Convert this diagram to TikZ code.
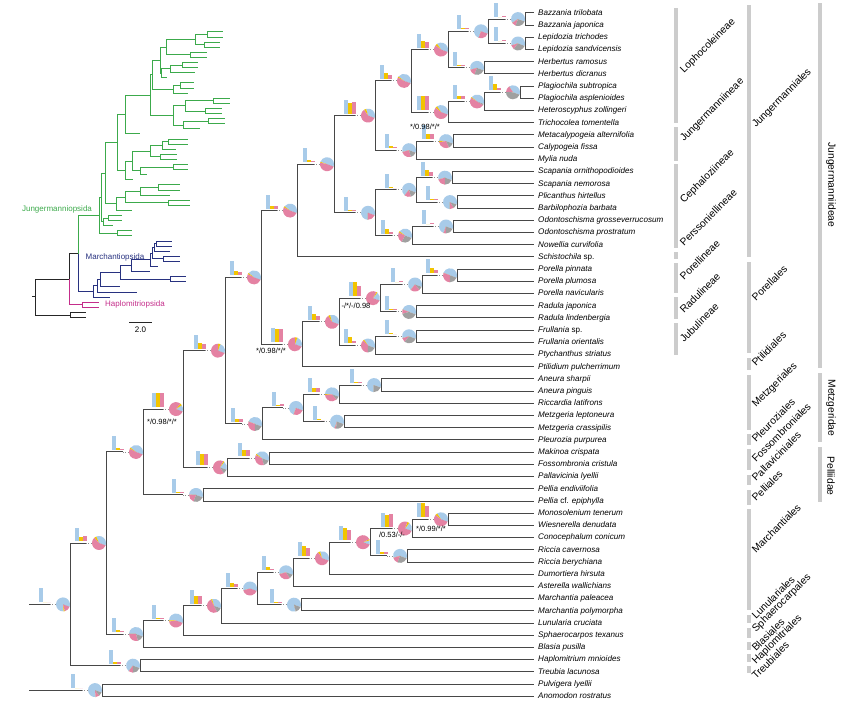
\documentclass[tikz,border=0pt]{standalone}
\usepackage{fontspec}
\setmainfont{Liberation Sans}
\usetikzlibrary{calc}

\definecolor{pblue}{RGB}{168,203,233}
\definecolor{ppink}{RGB}{228,130,163}
\definecolor{pyel}{RGB}{242,196,0}
\definecolor{pgray}{RGB}{160,160,160}
\definecolor{rankgray}{RGB}{204,204,204}
\definecolor{jungcol}{RGB}{60,170,75}
\definecolor{marchcol}{RGB}{40,50,128}
\definecolor{hapcol}{RGB}{196,45,138}

\tikzset{
  branch/.style={draw=black!72, line width=1pt},
  link/.style={draw=black!45, line width=0.8pt, dash pattern=on 0.8pt off 1.6pt},
  ibranch/.style={line width=1pt},
  mroot/.style={branch}, mhap/.style={branch},
  mjung/.style={branch}, mmarch/.style={branch},
  iroot/.style={ibranch, draw=black!85}, ihap/.style={ibranch, draw=hapcol},
  ijung/.style={ibranch, draw=jungcol}, imarch/.style={ibranch, draw=marchcol},
  taxon/.style={anchor=west, inner xsep=4pt, inner ysep=0pt, text height=6pt, text depth=1.5pt,
    font=\fontsize{8.1}{9}\selectfont\itshape},
  support/.style={font=\fontsize{7.5}{8}\selectfont, inner sep=0.5pt},
  rank/.style={font=\fontsize{10.3}{12}\selectfont, inner sep=0pt},
  rankbar/.style={fill=rankgray},
  ilabel/.style={font=\fontsize{8}{9}\selectfont, inner sep=0pt}
}

% node: name, x in tree, x in inset, y
\newcommand{\nd}[4]{%
  \coordinate (m#1) at (#2,#4);
  \coordinate (m#1-in) at (#2-20,#4);
  \coordinate (i#1) at (#3,{32+0.418*(#4-13)});
}

% pie (blue, yellow, pink, gray in %) and bars (blue, yellow, pink heights)
\newcommand{\info}[8]{%
  \draw[link] (m#1-in) -- ++(6,0);
  \pgfmathsetmacro\angA{-20}
  \pgfmathsetmacro\angB{\angA+3.6*#2}
  \pgfmathsetmacro\angC{\angB+3.6*#3}
  \pgfmathsetmacro\angD{\angC+3.6*#4}
  \pgfmathsetmacro\angE{\angD+3.6*#5}
  \path (m#1) ++(-7,0) coordinate (pc);
  \fill[pblue] (pc) -- ++(\angA:7pt) arc[start angle=\angA, end angle=\angB, radius=7pt] -- cycle;
  \fill[pyel] (pc) -- ++(\angB:7pt) arc[start angle=\angB, end angle=\angC, radius=7pt] -- cycle;
  \fill[ppink] (pc) -- ++(\angC:7pt) arc[start angle=\angC, end angle=\angD, radius=7pt] -- cycle;
  \fill[pgray] (pc) -- ++(\angD:7pt) arc[start angle=\angD, end angle=\angE, radius=7pt] -- cycle;
  \fill[pblue] (m#1) ++(-31,-2) rectangle ++(4,-#6);
  \fill[pyel] (m#1) ++(-27,-2) rectangle ++(4,-#7);
  \fill[ppink] (m#1) ++(-23,-2) rectangle ++(4,-#8);
}

% the tree, one edge per path: prefix, suffix of the inner end points
\newcommand{\phylo}[2]{%
  \foreach \a/\b in {root1/L0, root2/O, L0/A} {\draw[#1root] (#1\a) |- (#1\b#2);}
  \foreach \a/\b in {O/56, O/57} {\draw[#1root] (#1\a) |- (#1e\b);}
  \draw[#1hap] (#1L0) |- (#1Hap#2);
  \foreach \b in {54, 55} {\draw[#1hap] (#1Hap) |- (#1e\b);}
  \foreach \a/\b in {A/M, M/MB, MB/MC, MC/MD, MD/ME, MD/Mar, ME/MG, MG/MH,
      MH/MI, MH/Ric, MI/MJ} {\draw[#1march] (#1\a) |- (#1\b#2);}
  \foreach \a/\b in {M/53, MB/52, MC/51, Mar/49, Mar/50, ME/48, MG/47, Ric/45,
      Ric/46, MI/44, MJ/42, MJ/43} {\draw[#1march] (#1\a) |- (#1e\b);}
  \foreach \a/\b in {A/B, B/C, B/Pell, C/D, C/P, P/MF, D/E, D/Mz, Mz/Mzb,
      Mzb/Aneu, Mzb/Metz, Aneu/Aneura, E/F, E/J, J/K, K/L, K/Jub, L/Por, L/Rad,
      Por/PorP, Jub/Frul, F/G, G/H, G/I, H/Lopho, H/CM, Lopho/NL, Lopho/NP,
      NL/NB, NL/Herb, NB/Bazz, NB/Lep, NP/NH, NH/Plag, CM/Calyp, I/Ceph,
      I/Perss, Ceph/Scap, Ceph/Plic, Perss/Odont} {\draw[#1jung] (#1\a) |- (#1\b#2);}
  \foreach \a/\b in {Pell/40, Pell/41, P/39, MF/37, MF/38, Mz/36, Aneu/33,
      Aneura/31, Aneura/32, Metz/34, Metz/35, J/30, Por/24, PorP/22, PorP/23,
      Rad/25, Rad/26, Jub/29, Frul/27, Frul/28, F/21, Bazz/1, Bazz/2, Lep/3,
      Lep/4, Herb/5, Herb/6, NP/10, NH/9, Plag/7, Plag/8, CM/13, Calyp/11,
      Calyp/12, Scap/14, Scap/15, Plic/16, Plic/17, Perss/20, Odont/18,
      Odont/19} {\draw[#1jung] (#1\a) |- (#1e\b);}
}

\begin{document}
\begin{tikzpicture}[x=1pt,y=-1pt]
\useasboundingbox (0,0) rectangle (865,708);

% taxa, with tip x of the small tree
\foreach \tx/\ix [count=\i] in {
  Bazzania trilobata/223, Bazzania japonica/223, Lepidozia trichodes/220,
  Lepidozia sandvicensis/220, Herbertus ramosus/207, Herbertus dicranus/207,
  Plagiochila subtropica/198, Plagiochila asplenioides/198, Heteroscyphus zollingeri/195,
  Trichocolea tomentella/167, Metacalypogeia alternifolia/194, Calypogeia fissa/194,
  Mylia nuda/188, Scapania ornithopodioides/230, Scapania nemorosa/230,
  Plicanthus hirtellus/222, Barbilophozia barbata/222, Odontoschisma grosseverrucosum/225,
  Odontoschisma prostratum/225, Nowellia curvifolia/200, Schistochila \textup{sp.}/140,
  Porella pinnata/188, Porella plumosa/188, Porella navicularis/176,
  Radula japonica/177, Radula lindenbergia/177, Frullania \textup{sp.}/188,
  Frullania orientalis/188, Ptychanthus striatus/147, Ptilidium pulcherrimum/133,
  Aneura sharpii/180, Aneura pinguis/180, Riccardia latifrons/170,
  Metzgeria leptoneura/190, Metzgeria crassipilis/190, Pleurozia purpurea/132,
  Makinoa crispata/122, Fossombronia cristula/122, Pallavicinia lyellii/113,
  Pellia endiviifolia/132, Pellia \textup{cf.} epiphylla/132, Monosolenium tenerum/172,
  Wiesnerella denudata/172, Conocephalum conicum/170, Riccia cavernosa/180,
  Riccia berychiana/180, Dumortiera hirsuta/158, Asterella wallichians/150,
  Marchantia paleacea/186, Marchantia polymorpha/186, Lunularia cruciata/120,
  Sphaerocarpos texanus/137, Blasia pusilla/110, Haplomitrium mnioides/99,
  Treubia lacunosa/99, Pulvigera lyellii/86, Anomodon rostratus/86}{
  \node[taxon] (t\i) at (534,{13+12.2*(\i-1)}) {\tx};
  \coordinate (me\i) at (t\i.west);
  \coordinate (ie\i) at (\ix,{32+5.1*(\i-1)});
}

\coordinate (mroot1) at (29,604.4);
\coordinate (mroot2) at (29,690.1);
\coordinate (iroot1) at (35,297);
\coordinate (iroot2) at (35,297);

\nd{L0}{70}{69}{604.4}
\nd{O}{102}{70}{690.1}
\nd{A}{106}{78}{543}
\nd{Hap}{140}{82}{665.7}
\nd{B}{143}{99}{452}
\nd{M}{143}{93}{634}
\nd{C}{183}{101}{409.1}
\nd{Pell}{203}{117}{494.9}
\nd{D}{225}{105}{350.7}
\nd{P}{227}{103}{467.4}
\nd{MF}{269}{108}{458.3}
\nd{E}{261}{117}{277.4}
\nd{Mz}{262}{116}{424}
\nd{Mzb}{303}{125}{408}
\nd{Aneu}{339}{140}{394.3}
\nd{Aneura}{381}{158}{385.1}
\nd{Metz}{344}{168}{421.7}
\nd{F}{297}{125}{210.6}
\nd{J}{302}{125}{344.3}
\nd{K}{339}{132}{321.8}
\nd{L}{380}{150}{298.2}
\nd{Por}{422}{162}{284.5}
\nd{PorP}{457}{168}{275.3}
\nd{Rad}{416}{160}{311.9}
\nd{Jub}{375}{140}{345.5}
\nd{Frul}{416}{173}{336.3}
\nd{G}{334}{150}{164.2}
\nd{H}{375}{152}{115.6}
\nd{I}{375}{173}{212.8}
\nd{Lopho}{411}{160}{80.9}
\nd{NL}{448}{166}{49.6}
\nd{NB}{488}{195}{31.3}
\nd{Bazz}{525}{207}{19.1}
\nd{Lep}{525}{204}{43.5}
\nd{Herb}{484}{190}{67.9}
\nd{NP}{448}{161}{112.1}
\nd{NH}{484}{170}{101.5}
\nd{Plag}{520}{182}{92.3}
\nd{CM}{416}{173}{150.2}
\nd{Calyp}{453}{180}{141.1}
\nd{Ceph}{416}{185}{189.9}
\nd{Scap}{452}{213}{177.7}
\nd{Plic}{457}{205}{202.1}
\nd{Perss}{412}{183}{235.6}
\nd{Odont}{453}{208}{226.5}
\nd{MB}{183}{97}{620.5}
\nd{MC}{221}{100}{605.8}
\nd{MD}{257}{120}{588.5}
\nd{Mar}{301}{170}{604.7}
\nd{ME}{293}{131}{572.3}
\nd{MG}{329}{150}{558.2}
\nd{MH}{370}{152}{542.2}
\nd{Ric}{407}{163}{555.9}
\nd{MI}{412}{154}{528.5}
\nd{MJ}{448}{156}{519.3}

% main tree
\phylo{m}{-in}
\info{L0}{82}{3}{15}{0}{14}{0}{0}
\info{O}{82}{0}{9}{9}{14}{0}{0}
\info{A}{37}{5}{58}{0}{13}{4}{5}
\info{Hap}{70}{0}{10}{20}{14}{2}{2}
\info{B}{45}{3}{52}{0}{14}{2}{1}
\info{M}{55}{0}{30}{15}{14}{2}{1}
\info{C}{15}{5}{80}{0}{14}{14}{14}
\info{Pell}{55}{0}{20}{25}{14}{1}{1}
\info{D}{25}{5}{70}{0}{14}{6}{5}
\info{P}{20}{3}{67}{10}{14}{11}{11}
\info{MF}{45}{3}{37}{15}{13}{6}{6}
\info{E}{45}{3}{52}{0}{14}{4}{3}
\info{Mz}{50}{0}{30}{20}{14}{3}{3}
\info{Mzb}{75}{0}{25}{0}{14}{1}{2}
\info{Aneu}{55}{2}{35}{8}{14}{4}{4}
\info{Aneura}{80}{0}{0}{20}{14}{1}{1}
\info{Metz}{75}{0}{3}{22}{14}{1}{0}
\info{F}{45}{3}{52}{0}{14}{3}{3}
\info{J}{25}{5}{70}{0}{14}{13}{13}
\info{K}{35}{5}{60}{0}{14}{6}{4}
\info{L}{20}{3}{77}{0}{14}{14}{10}
\info{Por}{70}{0}{22}{8}{14}{0}{1}
\info{PorP}{50}{0}{30}{20}{14}{5}{3}
\info{Rad}{50}{0}{10}{40}{14}{1}{1}
\info{Jub}{40}{3}{37}{20}{14}{6}{2}
\info{Frul}{60}{0}{10}{30}{14}{1}{0}
\info{G}{50}{2}{48}{0}{14}{2}{1}
\info{H}{35}{5}{60}{0}{14}{11}{12}
\info{I}{80}{0}{20}{0}{14}{1}{1}
\info{Lopho}{45}{3}{52}{0}{14}{6}{4}
\info{NL}{40}{5}{55}{0}{14}{7}{6}
\info{NB}{75}{0}{25}{0}{14}{1}{1}
\info{Bazz}{65}{0}{10}{25}{14}{0}{1}
\info{Lep}{60}{0}{10}{30}{14}{0}{1}
\info{Herb}{60}{0}{15}{25}{14}{1}{1}
\info{NP}{40}{5}{55}{0}{14}{14}{14}
\info{NH}{45}{2}{50}{3}{14}{3}{3}
\info{Plag}{40}{0}{15}{45}{14}{6}{2}
\info{CM}{60}{0}{25}{15}{14}{2}{1}
\info{Calyp}{55}{3}{30}{12}{14}{5}{5}
\info{Ceph}{70}{0}{15}{15}{14}{1}{0}
\info{Scap}{60}{0}{20}{20}{14}{6}{4}
\info{Plic}{80}{0}{10}{10}{14}{1}{1}
\info{Perss}{45}{3}{25}{27}{14}{5}{2}
\info{Odont}{75}{0}{5}{20}{14}{0}{1}
\info{MB}{55}{3}{42}{0}{14}{1}{1}
\info{MC}{35}{3}{50}{12}{14}{8}{8}
\info{MD}{60}{0}{40}{0}{14}{4}{3}
\info{Mar}{85}{0}{0}{15}{14}{1}{1}
\info{ME}{60}{0}{30}{10}{14}{3}{1}
\info{MG}{35}{5}{60}{0}{14}{10}{8}
\info{MH}{10}{3}{87}{0}{14}{12}{10}
\info{Ric}{60}{0}{15}{25}{14}{2}{2}
\info{MI}{20}{5}{75}{0}{14}{12}{13}
\info{MJ}{40}{5}{55}{0}{14}{14}{11}

% support values
\node[support] (sC) at (162,422) {*/0.98/*/*};
\node[support] (sJ) at (271,351) {*/0.98/*/*};
\node[support] (sNP) at (425,127) {*/0.98/*/*};
\node[support] (sL) at (356,306) {-/*/-/0.98};
\node[support] (sMI) at (392,535) {/0.53/-/-};
\node[support] (sMJ) at (431,529) {*/0.99/*/*};

% suborders, orders, subclasses
\foreach \a/\b/\s/\t in {8/123/74/Lophocoleineae, 127/161/142/Jungermanniineae,
    164/248/204/Cephaloziineae, 252/259/247/Perssoniellineae, 263/293/281/Porellineae,
    297/319/314/Radulineae, 323/355/343/Jubulineae}{
  \fill[rankbar] (674,\a) rectangle (678,\b);
  \node[rank, rotate=45, anchor=base west] (\t) at (684,\s) {\t};
}
\foreach \a/\b/\s/\t in {5/257/128/Jungermanniales, 262/353/302/Porellales,
    358/370/367/Ptilidiales, 375/430/408/Metzgeriales, 434/445/443/Pleuroziales,
    449/470/463/Fossombroniales, 475/485/482/Pallaviciniales, 490/505/502/Pelliales,
    509/610/554/Marchantiales, 615/623/620/Lunulariales, 628/638/633/Sphaerocarpales,
    642/650/652/Blasiales, 654/662/665/Haplomitriales, 666/673/680/Treubiales}{
  \fill[rankbar] (747,\a) rectangle (751,\b);
  \node[rank, rotate=45, anchor=base west] (\t) at (756,\s) {\t};
}
\foreach \a/\b/\s/\t in {3/368/185/Jungermanniideae, 373/442/408/Metzgeridae,
    447/502/476/Pelliidae}{
  \fill[rankbar] (818,\a) rectangle (822,\b);
  \node[rank, rotate=-90] (\t) at (831,\s) {\t};
}

% small tree
\phylo{i}{}
\draw[iroot] (iroot1) -- ++(-3,0);
\node[ilabel, text=jungcol] (jlab) at (57,209) {Jungermanniopsida};
\node[ilabel, text=marchcol] (mlab) at (115,257) {Marchantiopsida};
\node[ilabel, text=hapcol] (hlab) at (135,304) {Haplomitriopsida};
\coordinate (sb1) at (129,323);
\coordinate (sb2) at (152,323);
\draw[iroot] (sb1) -- (sb2);
\node[ilabel, below=4pt] (sblab) at ($(sb1)!0.5!(sb2)$) {2.0};
\end{tikzpicture}
\end{document}
